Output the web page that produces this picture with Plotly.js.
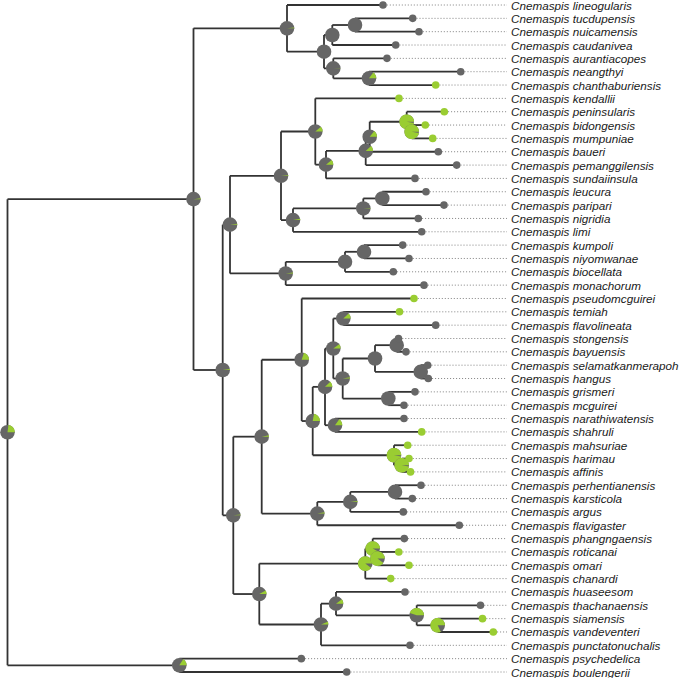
<!DOCTYPE html>
<html>
<head>
<meta charset="utf-8">
<script src="https://cdn.plot.ly/plotly-3.0.1.min.js"></script>
<style>html,body{margin:0;padding:0;background:#fff;}#chart{width:685px;height:678px;}</style>
</head>
<body>
<div id="chart"></div>
<script>
// ---------- DATA ----------
const genus = "Cnemaspis";
const tipNames = ["lineogularis","tucdupensis","nuicamensis","caudanivea","aurantiacopes","neangthyi","chanthaburiensis","kendallii","peninsularis","bidongensis","mumpuniae","baueri","pemanggilensis","sundaiinsula","leucura","paripari","nigridia","limi","kumpoli","niyomwanae","biocellata","monachorum","pseudomcguirei","temiah","flavolineata","stongensis","bayuensis","selamatkanmerapoh","hangus","grismeri","mcguirei","narathiwatensis","shahruli","mahsuriae","harimau","affinis","perhentianensis","karsticola","argus","flavigaster","phangngaensis","roticanai","omari","chanardi","huaseesom","thachanaensis","siamensis","vandeventeri","punctatonuchalis","psychedelica","boulengerii"];
const tipParent = ["A","A3","A3","A2","A4","A5","A5","G","M","N","N","K","J","I","P","P","O","H","R","R","Q","F","V","Y1","Y1","Y4","Y4","Y5","Y5","Y6","Y6","X2","X2","Z","Z1","Z1","W2","W2","W1","W","U2","U3","U3","U1","U5","U6","U7","U7","U4","L","L"];
const tipDepth = [383,412.7,419,395.7,387,460.7,435.7,399,444.3,425.3,432.7,438.3,456.7,415,426,444,418.3,421.7,402.7,409,393.3,424,414,399.5,435.7,398.5,406,427.7,428.3,415,404,404,421.7,407.7,409,410.5,421,412.3,403.3,459.3,404.3,398.8,409,390.7,405,480.5,482.5,493.3,410,301.3,346.7];
const tipGreen = [0,0,0,0,0,0,1,1,1,1,1,0,0,0,0,0,0,0,0,0,0,0,1,1,0,0,0,0,0,0,0,0,1,1,1,1,0,0,0,0,0,1,1,1,0,0,1,1,0,0,0];

const nodeNames  = ["root","B","A","A1","A2","A3","A4","A5","C","D","E","G","I","J","K","M","N","H","O","P","F","Q","R","S","T","V","X","X1","Y","Y1","Y2","Y3","Y4","Y5","Y6","X2","Z","Z1","W","W1","W2","U","U1","U2","U3","U4","U5","U6","U7","L"];
const nodeParent = [null,"root","B","A","A1","A2","A1","A4","B","C","D","E","G","I","J","K","M","E","H","O","D","F","Q","C","S","T","V","X","X1","Y","Y","Y2","Y3","Y3","Y2","X1","X","Z","T","W","W1","S","U","U1","U2","U","U4","U5","U6","root"];
const nodeDepth  = [7.5,193.5,287,324,332.3,355,333.3,369,222.7,230,281,315.3,326,365.7,369.7,406.7,411.7,293,363.3,382.3,285.7,345,364,233.3,261.7,301.7,312.7,325,333.3,343.3,342.7,375,396.7,420.7,388.3,335,394,401.7,317.3,350.3,395,259.3,365.3,372.7,377.5,321,336,416.7,437.7,179.3];
const nodeGreen  = [0.23,0.02,0.02,0,0,0,0.01,0.15,0.02,0.02,0.02,0.11,0.11,0.12,0.14,0.97,0.97,0.03,0.01,0,0.02,0,0,0.02,0.03,0.2,0.22,0.12,0.1,0.12,0.03,0,0,0,0,0.15,0.97,0.97,0.03,0.02,0,0.08,0.9,0.92,0.9,0.06,0.1,0.45,0.82,0.16];

// ---------- STYLE ----------
const GRAY = "#666666", GREEN = "#9acd32", LINE = "#333333";
const W = 685, H = 678;
const TOP_PX = 5, STEP_PX = 13.34;       // pixel position of first tip and spacing
const LABEL_X = 509, DOT_END = 507;
const R_NODE = 7.3, R_TIP = 3.8;

// ---------- BUILD TREE ----------
const nodes = {};
tipNames.forEach((n,i)=>{ nodes["t"+i] = {id:"t"+i, tip:true, name:n, parent:tipParent[i], x:tipDepth[i], y:i, g:tipGreen[i], children:[]}; });
nodeNames.forEach((n,i)=>{ nodes[n] = {id:n, tip:false, parent:nodeParent[i], x:nodeDepth[i], g:nodeGreen[i], children:[]}; });
Object.values(nodes).forEach(nd=>{ if(nd.parent) nodes[nd.parent].children.push(nd); });
function setY(nd){ if(nd.tip) return nd.y; const ys = nd.children.map(setY); nd.y = (Math.min(...ys)+Math.max(...ys))/2; return nd.y; }
setY(nodes["root"]);

const kY = STEP_PX; // px per y unit
const yRange = [(H - TOP_PX)/kY, -TOP_PX/kY];

// branch lines
const bx=[], by=[];
function walk(nd, order){
  order.push(nd);
  if(!nd.tip){
    const ys = nd.children.map(c=>c.y);
    bx.push(nd.x, nd.x, null); by.push(Math.min(...ys), Math.max(...ys), null);
    nd.children.forEach(c=>{ bx.push(nd.x, c.x, null); by.push(c.y, c.y, null); walk(c, order); });
  }
}
const order=[]; walk(nodes["root"], order);

// dotted leader lines
const dx=[], dy=[];
tipNames.forEach((n,i)=>{ dx.push(tipDepth[i]+R_TIP, DOT_END, null); dy.push(i,i,null); });

const traces = [
  {x:dx, y:dy, mode:"lines", line:{color:"#808080", width:1, dash:"1px,2px"}, hoverinfo:"skip", showlegend:false},
  {x:bx, y:by, mode:"lines", line:{color:LINE, width:1.8}, hoverinfo:"skip", showlegend:false}
];

// pies as shapes
const shapes = [];
function circle(cx, cy, r, color){
  shapes.push({type:"circle", xref:"x", yref:"y", x0:cx-r, x1:cx+r, y0:cy-r/kY, y1:cy+r/kY, fillcolor:color, line:{width:0}});
}
function wedge(cx, cy, r, frac, color){
  const n = Math.max(4, Math.ceil(frac*90));
  let p = `M${cx},${cy}`;
  for(let j=0;j<=n;j++){
    const a = 2*Math.PI*frac*j/n;
    p += ` L${cx + r*Math.cos(a)},${cy - (r/kY)*Math.sin(a)}`;
  }
  p += " Z";
  shapes.push({type:"path", xref:"x", yref:"y", path:p, fillcolor:color, line:{width:0}});
}
// internal nodes first (pre-order), tips last
order.filter(n=>!n.tip).forEach(nd=>{
  if(nd.g >= 0.995){ circle(nd.x, nd.y, R_NODE, GREEN); }
  else {
    circle(nd.x, nd.y, R_NODE, GRAY);
    if(nd.g > 0) wedge(nd.x, nd.y, R_NODE, nd.g, GREEN);
  }
});
order.filter(n=>n.tip).forEach(nd=>{ circle(nd.x, nd.y, R_TIP, nd.g ? GREEN : GRAY); });

// labels
const annotations = tipNames.map((n,i)=>({
  x: LABEL_X, y: i, xref:"x", yref:"y", text: genus + " " + n, showarrow:false,
  xanchor:"left", yanchor:"middle", font:{family:"Liberation Sans, Arial, sans-serif", size:11.7, color:"#1a1a1a", style:"italic"}
}));

const layout = {
  width:W, height:H, margin:{l:0,r:0,t:0,b:0}, paper_bgcolor:"#fff", plot_bgcolor:"#fff",
  xaxis:{range:[0,W], visible:false, fixedrange:true},
  yaxis:{range:yRange, visible:false, fixedrange:true},
  shapes, annotations, showlegend:false
};
Plotly.newPlot("chart", traces, layout, {displayModeBar:false, staticPlot:true});
</script>
</body>
</html>
